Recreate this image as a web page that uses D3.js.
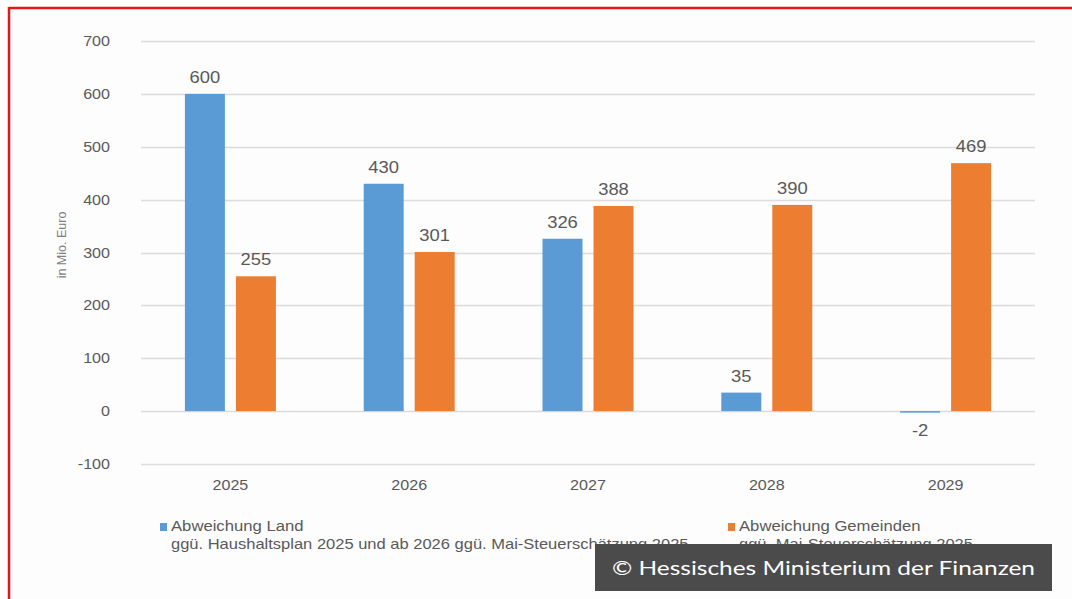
<!DOCTYPE html>
<html>
<head>
<meta charset="utf-8">
<script src="https://cdn.jsdelivr.net/npm/d3@7"></script>
<style>
  html, body { margin: 0; padding: 0; background: #ffffff; }
  svg { display: block; }
</style>
</head>
<body>
<svg id="chart" width="1072" height="599"></svg>
<script>
const years = ["2025", "2026", "2027", "2028", "2029"];
const seriesNames = ["Abweichung Land", "Abweichung Gemeinden"];
const landValues = [600, 430, 326, 35, -2];
const gemeindenValues = [255, 301, 388, 390, 469];
const yTicks = [-100, 0, 100, 200, 300, 400, 500, 600, 700];
const legendSubtitles = [
  "ggü. Haushaltsplan 2025 und ab 2026 ggü. Mai-Steuerschätzung 2025",
  "ggü. Mai-Steuerschätzung 2025"
];
const yAxisTitle = "in Mio. Euro";
const credit = "© Hessisches Ministerium der Finanzen";

const colors = ["#5b9bd5", "#ed7d31"];
const textColor = "#595959";
const sx = 1.15;
const font = "'Liberation Sans', Arial, sans-serif";

const svg = d3.select("#chart");

// frame
svg.append("rect").attr("x", 9).attr("y", 8).attr("width", 1072).attr("height", 600).attr("fill", "#fdfdfd");
svg.append("line").attr("x1", 9).attr("x2", 1072).attr("y1", 8).attr("y2", 8).attr("stroke", "#e8141b").attr("stroke-width", 2.5);
svg.append("line").attr("x1", 9).attr("x2", 9).attr("y1", 7).attr("y2", 599).attr("stroke", "#e8141b").attr("stroke-width", 2.5);

const y = d3.scaleLinear().domain([-100, 700]).range([464, 41]);
const x0 = d3.scaleBand().domain(years).range([141, 1035]).padding(0);
const bw = x0.bandwidth();
const x1 = d3.scaleBand().domain(seriesNames).range([bw / 2 - 45.5, bw / 2 + 45.5]).paddingInner(0.216).paddingOuter(0);

// gridlines
svg.append("g").selectAll("line").data(yTicks).join("line")
  .attr("x1", 141).attr("x2", 1035)
  .attr("y1", d => Math.round(y(d)) + 0.5).attr("y2", d => Math.round(y(d)) + 0.5)
  .attr("stroke", "#dcdcdc").attr("stroke-width", 1.5);

// y tick labels
svg.append("g").selectAll("text").data(yTicks).join("text")
  .attr("transform", d => `translate(110,${y(d) + 5}) scale(${sx},1)`)
  .attr("text-anchor", "end")
  .attr("font-family", font).attr("font-size", 14).attr("fill", textColor)
  .text(d => d);

// y axis title
svg.append("text")
  .attr("transform", `translate(66,245) rotate(-90)`)
  .attr("text-anchor", "middle")
  .attr("font-family", font).attr("font-size", 12.5).attr("fill", "#808080")
  .text(yAxisTitle);

// bars
const data = years.map((yr, i) => ({ year: yr, values: [landValues[i], gemeindenValues[i]] }));
const groups = svg.append("g").selectAll("g").data(data).join("g")
  .attr("transform", d => `translate(${x0(d.year)},0)`);

groups.selectAll("rect").data(d => d.values.map((v, j) => ({ v, j }))).join("rect")
  .attr("x", d => x1(seriesNames[d.j]))
  .attr("width", x1.bandwidth())
  .attr("y", d => y(Math.max(0, d.v)))
  .attr("height", d => Math.max(1.5, Math.abs(y(d.v) - y(0))))
  .attr("fill", d => colors[d.j]);

groups.selectAll("text").data(d => d.values.map((v, j) => ({ v, j }))).join("text")
  .attr("transform", d => {
    const cx = x1(seriesNames[d.j]) + x1.bandwidth() / 2;
    const ty = d.v >= 0 ? y(d.v) - 11 : y(0) + 25;
    return `translate(${cx},${ty}) scale(${sx},1)`;
  })
  .attr("text-anchor", "middle")
  .attr("font-family", font).attr("font-size", 16).attr("fill", textColor)
  .text(d => d.v);

// category labels
svg.append("g").selectAll("text").data(years).join("text")
  .attr("transform", d => `translate(${x0(d) + bw / 2},490) scale(${sx},1)`)
  .attr("text-anchor", "middle")
  .attr("font-family", font).attr("font-size", 14).attr("fill", textColor)
  .text(d => d);

// legend
const legendX = [160, 728];
seriesNames.forEach((name, i) => {
  const g = svg.append("g");
  g.append("rect").attr("x", legendX[i]).attr("y", 523).attr("width", 7).attr("height", 8).attr("fill", colors[i]);
  g.append("text")
    .attr("transform", `translate(${legendX[i] + 11},531) scale(${sx},1)`)
    .attr("font-family", font).attr("font-size", 14.5).attr("fill", textColor)
    .text(name);
  g.append("text")
    .attr("transform", `translate(${legendX[i] + 11},549) scale(1.18,1)`)
    .attr("font-family", font).attr("font-size", 14).attr("fill", textColor)
    .text(legendSubtitles[i]);
});

// credit box
svg.append("rect").attr("x", 595).attr("y", 544).attr("width", 457).attr("height", 47).attr("fill", "#4b4b4b");
svg.append("text")
  .attr("x", 612).attr("y", 575)
  .attr("font-family", "Lato, 'DejaVu Sans', sans-serif").attr("font-size", 20).attr("fill", "#ffffff")
  .attr("textLength", 423).attr("lengthAdjust", "spacingAndGlyphs")
  .text(credit);
</script>
</body>
</html>
